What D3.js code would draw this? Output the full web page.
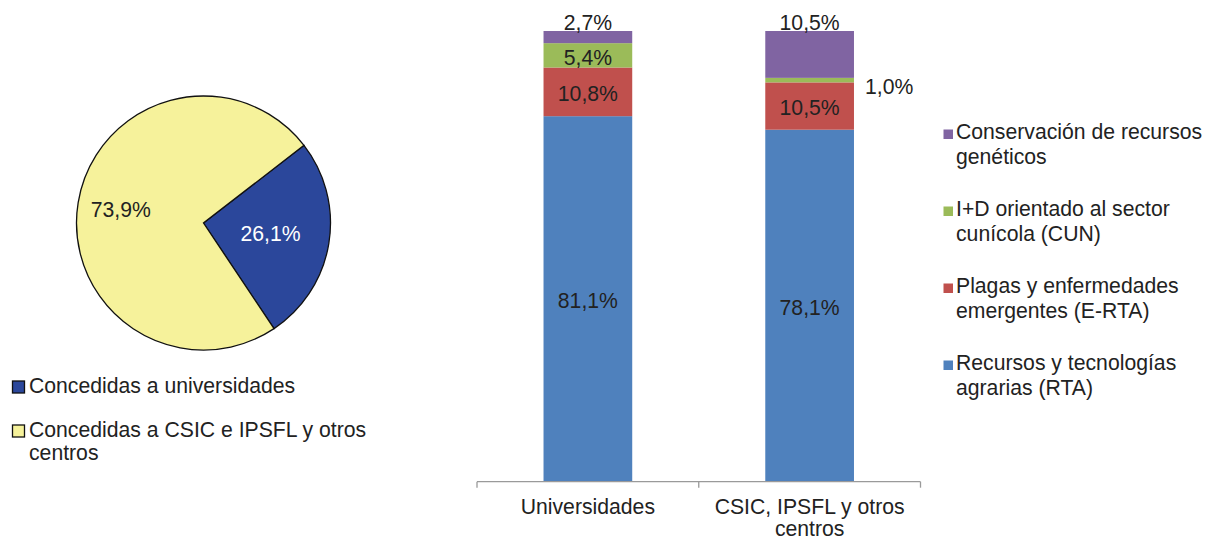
<html lang="es">
<head>
<meta charset="UTF-8">
<title>Ayudas concedidas</title>
<script src="https://d3js.org/d3.v7.min.js"></script>
<style>
  body { margin: 0; background: #fff; }
  svg text { font-family: "Liberation Sans", Arial, sans-serif; font-size: 21.2px; fill: #222; }
</style>
</head>
<body>
<svg width="1205" height="538"></svg>
<script>
// pie data
const pieLabels = ["Concedidas a universidades", "Concedidas a CSIC e IPSFL y otros centros"];
const pieValues = [26.1, 73.9];
const pieColors = ["#2b479b", "#f6f29b"];

// stacked bar data
const categories = ["Universidades", "CSIC, IPSFL y otros centros"];
const seriesNames = [
  "Recursos y tecnologías agrarias (RTA)",
  "Plagas y enfermedades emergentes (E-RTA)",
  "I+D orientado al sector cunícola (CUN)",
  "Conservación de recursos genéticos"
];
const rta  = [81.1, 78.1];
const erta = [10.8, 10.5];
const cun  = [5.4, 1.0];
const crg  = [2.7, 10.5];
const seriesColors = ["#4f81bd", "#c0504d", "#9bbb59", "#8064a2"];

const svg = d3.select("svg");

// ---------- pie ----------
const cx = 203.5, cy = 223, r = 127;
const startA = 52.3 * Math.PI / 180;
const pie = d3.pie().sort(null)
    .startAngle(startA).endAngle(startA + 2 * Math.PI);
const arcs = pie(pieValues);
const arc = d3.arc().innerRadius(0).outerRadius(r);

const pg = svg.append("g").attr("transform", `translate(${cx},${cy})`);
pg.selectAll("path.slice")
  .data(arcs)
  .join("path")
    .attr("class", "slice")
    .attr("d", arc)
    .attr("fill", (d, i) => pieColors[i])
    .attr("stroke", "#111")
    .attr("stroke-width", 1.3);

const labelR = [0.535, 0.66];
pg.selectAll("text.pl")
  .data(arcs)
  .join("text")
    .attr("class", "pl")
    .attr("transform", (d, i) => {
      const a = (d.startAngle + d.endAngle) / 2;
      const rr = r * labelR[i];
      return `translate(${Math.sin(a) * rr},${-Math.cos(a) * rr})`;
    })
    .attr("text-anchor", "middle")
    .attr("dy", "0.35em")
    .style("fill", (d, i) => i === 0 ? "#fff" : "#222")
    .text(d => d3.format(".1f")(d.data).replace(".", ",") + "%");

// pie legend
const pieLegLines = [["Concedidas a universidades"], ["Concedidas a CSIC e IPSFL y otros", "centros"]];
const pl = svg.append("g");
pieLegLines.forEach((lines, i) => {
  const base = 393 + i * 44;
  pl.append("rect")
    .attr("x", 12.5).attr("y", base - 12)
    .attr("width", 12).attr("height", 12)
    .attr("fill", pieColors[i])
    .attr("stroke", "#111").attr("stroke-width", 1.3);
  const t = pl.append("text").attr("x", 29).attr("y", base);
  lines.forEach((s, j) => t.append("tspan").attr("x", 29).attr("dy", j ? 22.7 : 0).text(s));
});

// ---------- stacked bars ----------
const rows = categories.map((c, i) => ({cat: c, s0: rta[i], s1: erta[i], s2: cun[i], s3: crg[i]}));
const keys = ["s0", "s1", "s2", "s3"];
const stack = d3.stack().keys(keys)(rows);

const x = d3.scaleBand().domain(categories).range([477, 920.5])
    .paddingInner(0.6).paddingOuter(0.3);
const y = d3.scaleLinear().domain([0, 100]).range([481.7, 31]);

svg.append("g").selectAll("g")
  .data(stack)
  .join("g")
    .attr("fill", (d, i) => seriesColors[i])
  .selectAll("rect")
  .data(d => d)
  .join("rect")
    .attr("x", d => x(d.data.cat))
    .attr("width", x.bandwidth())
    .attr("y", d => y(Math.min(100, d[1])))
    .attr("height", d => y(d[0]) - y(Math.min(100, d[1])));

// axis line with ticks at band boundaries
const step = x.step();
const b0 = x(categories[0]) - step * x.paddingInner() / 2;
const tickX = d3.range(categories.length + 1).map(i => b0 + i * step);
const ax = svg.append("g").attr("stroke", "#9a9a9a").attr("stroke-width", 1.3).attr("fill", "none");
ax.append("line").attr("x1", tickX[0]).attr("x2", tickX[tickX.length - 1])
  .attr("y1", y(0)).attr("y2", y(0));
tickX.forEach(tx => ax.append("line").attr("x1", tx).attr("x2", tx)
  .attr("y1", y(0)).attr("y2", y(0) + 6));

// category labels
const catLines = [["Universidades"], ["CSIC, IPSFL y otros", "centros"]];
categories.forEach((c, i) => {
  const t = svg.append("text")
    .attr("text-anchor", "middle")
    .attr("y", 513.5);
  catLines[i].forEach((s, j) => t.append("tspan")
    .attr("x", x(c) + x.bandwidth() / 2).attr("dy", j ? 22.8 : 0).text(s));
});

// value labels
const fmt = v => d3.format(".1f")(v).replace(".", ",") + "%";
stack.forEach((ser, si) => {
  ser.forEach(d => {
    const v = d[1] - d[0];
    const cxb = x(d.data.cat) + x.bandwidth() / 2;
    let tx = cxb, ty = (y(d[0]) + y(Math.min(100, d[1]))) / 2 + 2, anchor = "middle";
    if (si === 3) { ty = y(100) - 8; }
    else if (v < 2) { tx = x(d.data.cat) + x.bandwidth() + 11; anchor = "start"; ty = ty + 4; }
    svg.append("text")
      .attr("x", tx).attr("y", ty)
      .attr("dy", "0.35em")
      .attr("text-anchor", anchor)
      .text(fmt(v));
  });
});

// bar legend (top to bottom: reversed series)
const legLines = [
  ["Conservación de recursos", "genéticos"],
  ["I+D orientado al sector", "cunícola (CUN)"],
  ["Plagas y enfermedades", "emergentes (E-RTA)"],
  ["Recursos y tecnologías", "agrarias (RTA)"]
];
const lg = svg.append("g");
legLines.forEach((lines, i) => {
  const base = 139.3 + i * 77;
  lg.append("rect")
    .attr("x", 943.5).attr("y", base - 9.8)
    .attr("width", 9.5).attr("height", 9.5)
    .attr("fill", seriesColors[3 - i]);
  const t = lg.append("text").attr("y", base);
  lines.forEach((s, j) => t.append("tspan").attr("x", 956).attr("dy", j ? 24.5 : 0).text(s));
});
</script>
</body>
</html>
